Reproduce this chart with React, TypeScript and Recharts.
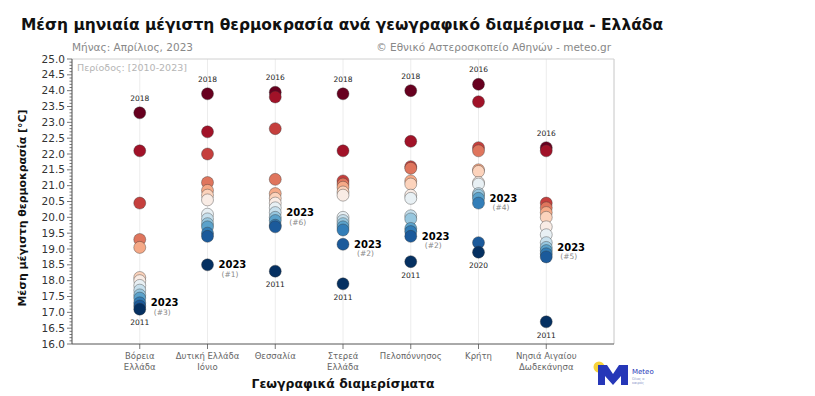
import React from 'react';
import { ScatterChart, Scatter, XAxis, YAxis, CartesianGrid, ReferenceLine } from 'recharts';

// ---- Data ----
const regions = [
  ['Βόρεια', 'Ελλάδα'],
  ['Δυτική Ελλάδα', 'Ιόνιο'],
  ['Θεσσαλία'],
  ['Στερεά', 'Ελλάδα'],
  ['Πελοπόννησος'],
  ['Κρήτη'],
  ['Νησιά Αιγαίου', 'Δωδεκάνησα'],
];

// April mean max temperature per year 2010-2023, sorted high -> low
const northGreece = [23.3, 22.1, 20.45, 19.3, 19.05, 18.1, 18.0, 17.85, 17.7, 17.55, 17.45, 17.3, 17.2, 17.1];
const westGreece = [23.9, 22.7, 22.0, 21.1, 20.85, 20.7, 20.55, 20.1, 19.95, 19.8, 19.7, 19.5, 19.4, 18.5];
const thessaly = [23.95, 23.8, 22.8, 21.2, 20.75, 20.6, 20.45, 20.3, 20.15, 20.0, 19.9, 19.75, 19.7, 18.3];
const centralGreece = [23.9, 22.1, 21.15, 21.05, 20.95, 20.8, 20.7, 20.0, 19.9, 19.8, 19.7, 19.6, 19.15, 17.9];
const peloponnese = [24.0, 22.4, 21.6, 21.55, 21.15, 21.05, 20.7, 20.6, 20.05, 19.95, 19.65, 19.55, 19.4, 18.6];
const crete = [24.2, 23.65, 22.2, 22.1, 21.5, 21.45, 21.1, 21.05, 20.75, 20.7, 20.6, 20.45, 19.2, 18.9];
const islands = [22.2, 22.1, 20.45, 20.3, 20.15, 20.0, 19.7, 19.45, 19.2, 19.05, 18.95, 18.85, 18.75, 16.7];

const seriesValues = [northGreece, westGreece, thessaly, centralGreece, peloponnese, crete, islands];
const topYears = ['2018', '2018', '2016', '2018', '2018', '2016', '2016'];
const bottomYears = ['2011', '', '2011', '2011', '2011', '2020', '2011'];
const ranks2023 = [3, 1, 6, 2, 2, 4, 5];

const yTicks: number[] = [];
for (let i = 0; i <= 90; i++) yTicks.push(Math.round((16 + i * 0.1) * 10) / 10);
const xTicks = [1, 2, 3, 4, 5, 6, 7];

// ---- Colormap (RdBu reversed) ----
const rdbu = ['#053061', '#2166ac', '#4393c3', '#92c5de', '#d1e5f0', '#f7f7f7', '#fddbc7', '#f4a582', '#d6604d', '#b2182b', '#67001f'];
function hex(c: string) {
  return [parseInt(c.slice(1, 3), 16), parseInt(c.slice(3, 5), 16), parseInt(c.slice(5, 7), 16)];
}
function cmap(t: number) {
  const p = t * (rdbu.length - 1);
  const i = Math.min(Math.floor(p), rdbu.length - 2);
  const f = p - i;
  const a = hex(rdbu[i]);
  const b = hex(rdbu[i + 1]);
  const c = a.map((v, k) => Math.round(v + (b[k] - v) * f));
  return `rgb(${c[0]},${c[1]},${c[2]})`;
}

const points: any[] = [];
seriesValues.forEach((vals, i) => {
  const n = vals.length;
  vals.forEach((v, j) => {
    const rank = n - j; // 1 = lowest
    points.push({
      x: i + 1,
      y: v,
      fill: cmap((rank - 1) / (n - 1)),
      top: j === 0 ? topYears[i] : '',
      bottom: j === n - 1 ? bottomYears[i] : '',
      is2023: rank === ranks2023[i],
      rank,
    });
  });
});

const FONT = 'DejaVu Sans, Verdana, sans-serif';

const PointShape = (props: any) => {
  const { cx, cy, payload } = props;
  if (cx == null || cy == null) return null;
  return (
    <g>
      <circle cx={cx} cy={cy} r={6} fill={payload.fill} stroke="#333" strokeOpacity={0.55} strokeWidth={0.7} />
      {payload.top && (
        <text x={cx} y={cy - 12} textAnchor="middle" fontSize={7.5} fill="#222" fontFamily={FONT}>{payload.top}</text>
      )}
      {payload.bottom && (
        <text x={cx} y={cy + 16} textAnchor="middle" fontSize={7.5} fill="#222" fontFamily={FONT}>{payload.bottom}</text>
      )}
      {payload.is2023 && (
        <g>
          <text x={cx + 11} y={cy + 3.5} fontSize={10} fontWeight="bold" fill="#000" fontFamily={FONT}>2023</text>
          <text x={cx + 14} y={cy + 12} fontSize={7.5} fill="#888" fontFamily={FONT}>{`(#${payload.rank})`}</text>
        </g>
      )}
    </g>
  );
};

const YTick = (props: any) => {
  const { x, y, payload } = props;
  const v = payload.value;
  const major = Math.abs(v * 2 - Math.round(v * 2)) < 1e-6;
  return (
    <g>
      <line x1={x} x2={x - (major ? 5 : 2.5)} y1={y} y2={y} stroke="#555" strokeWidth={0.8} />
      {major && (
        <text x={x - 7} y={y + 3.6} textAnchor="end" fontSize={10.5} fill="#333" fontFamily={FONT}>{v.toFixed(1)}</text>
      )}
    </g>
  );
};

const XTick = (props: any) => {
  const { x, y, payload } = props;
  const lines = regions[payload.value - 1] || [];
  return (
    <g>
      <line x1={x} x2={x} y1={y} y2={y + 5} stroke="#555" strokeWidth={0.8} />
      {lines.map((l, k) => (
        <text key={k} x={x} y={y + 15 + k * 11} textAnchor="middle" fontSize={8.5} fill="#666" fontFamily={FONT}>{l}</text>
      ))}
    </g>
  );
};

export default function App() {
  return (
    <div style={{ position: 'absolute', left: 0, top: 0, width: 815, height: 396, background: '#fff' }}>
      <div style={{ position: 'absolute', left: 0, top: 0 }}>
        <ScatterChart width={815} height={396} margin={{ top: 59, right: 201, left: 12, bottom: 12 }}>
          <CartesianGrid horizontal={false} stroke="#ececec" />
          <XAxis
            type="number"
            dataKey="x"
            domain={[0, 8]}
            ticks={xTicks}
            interval={0}
            tick={<XTick />}
            tickLine={false}
            tickSize={0}
            tickMargin={0}
            height={40}
            axisLine={{ stroke: '#555' }}
          />
          <YAxis
            type="number"
            dataKey="y"
            domain={[16, 25]}
            ticks={yTicks}
            interval={0}
            tick={<YTick />}
            tickLine={false}
            tickSize={0}
            tickMargin={0}
            width={60}
            axisLine={{ stroke: '#555' }}
            allowDataOverflow
          />
          <ReferenceLine y={25} stroke="#d0d0d0" />
          <ReferenceLine x={8} stroke="#d0d0d0" />
          <Scatter data={points} isAnimationActive={false} shape={<PointShape />} />
        </ScatterChart>
      </div>
      <svg width={815} height={396} style={{ position: 'absolute', left: 0, top: 0, pointerEvents: 'none' }}>
        <text x={21} y={30} fontSize={16.5} fontWeight="bold" fill="#111" fontFamily={FONT} textLength={642} lengthAdjust="spacingAndGlyphs">
          Μέση μηνιαία μέγιστη θερμοκρασία ανά γεωγραφικό διαμέρισμα - Ελλάδα
        </text>
        <text x={72} y={51} fontSize={10.5} fill="#888" fontFamily={FONT}>Μήνας: Απρίλιος, 2023</text>
        <text x={611} y={51} fontSize={10.5} fill="#888" textAnchor="end" fontFamily={FONT}>© Εθνικό Αστεροσκοπείο Αθηνών - meteo.gr</text>
        <text x={77} y={71} fontSize={9.5} fill="#b5b5b5" fontFamily={FONT}>Περίοδος: [2010-2023]</text>
        <text transform="translate(26,208) rotate(-90)" textAnchor="middle" fontSize={11} fontWeight="bold" fill="#111" fontFamily={FONT} textLength={197} lengthAdjust="spacingAndGlyphs">
          Μέση μέγιστη θερμοκρασία [°C]
        </text>
        <text x={343} y={388} textAnchor="middle" fontSize={13} fontWeight="bold" fill="#111" fontFamily={FONT} textLength={183} lengthAdjust="spacingAndGlyphs">
          Γεωγραφικά διαμερίσματα
        </text>
        <g>
          <circle cx={599} cy={367} r={5.5} fill="#f6d33c" />
          <polygon points="598,385 598,365 607,365 613,374 619,365 628,365 628,385 621,385 621,376 613,385 605,376 605,385" fill="#2637b8" />
          <text x={632} y={374} fontSize={7} fill="#2637b8" fontFamily={FONT}>Meteo</text>
          <text x={632} y={380} fontSize={3.5} fill="#8895c8" fontFamily={FONT}>Όλος ο</text>
          <text x={632} y={384} fontSize={3.5} fill="#8895c8" fontFamily={FONT}>καιρός</text>
        </g>
      </svg>
    </div>
  );
}
